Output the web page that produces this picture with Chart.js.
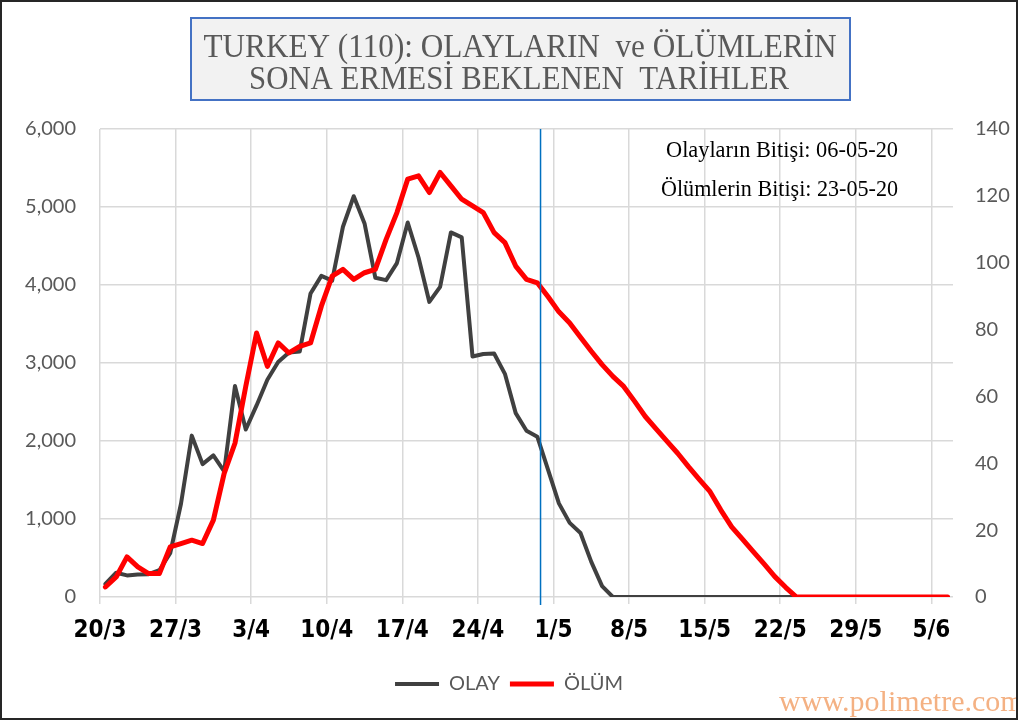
<!DOCTYPE html>
<html>
<head>
<meta charset="utf-8">
<title>Turkey</title>
<script src="https://cdn.jsdelivr.net/npm/chart.js@4.4.0/dist/chart.umd.min.js"></script>
<style>
  html, body { margin: 0; padding: 0; background: #fff; }
</style>
</head>
<body>
<canvas id="turkeyChart" width="1018" height="720"></canvas>
<script>
// x ekseni etiketleri (7 günde bir), ilk gün 20/3
const tickLabels = ['20/3', '27/3', '3/4', '10/4', '17/4', '24/4', '1/5', '8/5', '15/5', '22/5', '29/5', '5/6'];

// günlük vaka (sol eksen)
const olay = [
  168, 311, 277, 289, 293, 343, 561, 1196, 2069, 1704,
  1815, 1610, 2704, 2148, 2456, 2786, 3013, 3135, 3148, 3892,
  4117, 4056, 4747, 5138, 4789, 4093, 4062, 4281, 4801, 4353,
  3783, 3977, 4674, 4611, 3083, 3116, 3122, 2861, 2357, 2131,
  2055, 1630, 1200, 950, 820, 450, 140, 0, 0, 0,
  0, 0, 0, 0, 0, 0, 0, 0, 0, 0,
  0, 0, 0, 0, 0, 0, 0, 0, 0, 0,
  0, 0, 0, 0, 0, 0, 0, 0, 0
];

// günlük ölüm (sağ eksen)
const olum = [
  3, 6, 12, 9, 7, 7, 15, 16, 17, 16,
  23, 37, 46, 63, 79, 69, 76, 73, 75, 76,
  87, 96, 98, 95, 97, 98, 107, 115, 125, 126,
  121, 127, 123, 119, 117, 115, 109, 106, 99, 95,
  94, 89.8, 85.3, 82, 77.7, 73.5, 69.5, 66, 63, 58.6,
  54, 50.3, 46.6, 43, 39, 35.2, 31.5, 26, 21, 17.3,
  13.6, 9.9, 6.1, 2.9, 0, 0, 0, 0, 0, 0,
  0, 0, 0, 0, 0, 0, 0, 0, 0
];

const todayIndex = 40.3; // mavi dikey çizgi
const titleLines = ['TURKEY (110): OLAYLARIN  ve ÖLÜMLERİN', 'SONA ERMESİ BEKLENEN  TARİHLER'];
const endNotes = ['Olayların Bitişi: 06-05-20', 'Ölümlerin Bitişi: 23-05-20'];
const watermark = 'www.polimetre.com';

// yazıyı verilen genişliğe sığdır
function fitText(ctx, text, x, y, width, align) {
  const w = ctx.measureText(text).width;
  ctx.save();
  ctx.translate(x, y);
  ctx.scale(width / w, 1);
  ctx.textAlign = align;
  ctx.fillText(text, 0, 0);
  ctx.restore();
}

const extras = {
  id: 'extras',
  beforeDraw(chart) {
    const ctx = chart.ctx;
    ctx.save();
    ctx.fillStyle = '#fff';
    ctx.fillRect(0, 0, chart.width, chart.height);
    ctx.restore();
  },
  afterDatasetsDraw(chart) {
    const ctx = chart.ctx;
    const x = chart.scales.x.getPixelForValue(todayIndex);
    ctx.save();
    ctx.strokeStyle = '#0070c0';
    ctx.lineWidth = 1.5;
    ctx.beginPath();
    ctx.moveTo(x, chart.chartArea.top);
    ctx.lineTo(x, chart.chartArea.bottom + 8);
    ctx.stroke();
    ctx.restore();
  },
  afterDraw(chart) {
    const ctx = chart.ctx;
    ctx.save();
    // başlık kutusu
    ctx.fillStyle = '#f2f2f2';
    ctx.fillRect(191, 18, 659, 82);
    ctx.strokeStyle = '#4472c4';
    ctx.lineWidth = 2;
    ctx.strokeRect(191, 18, 659, 82);
    ctx.fillStyle = '#595959';
    ctx.font = '34px "Liberation Serif", "Times New Roman", serif';
    ctx.textBaseline = 'alphabetic';
    fitText(ctx, titleLines[0], 520, 57, 633, 'center');
    fitText(ctx, titleLines[1], 519, 89, 540, 'center');

    // bitiş tarihleri
    ctx.fillStyle = '#000';
    ctx.font = '24px "Liberation Serif", "Times New Roman", serif';
    fitText(ctx, endNotes[0], 898, 157, 232, 'right');
    fitText(ctx, endNotes[1], 898, 196, 237, 'right');

    // site adı
    ctx.fillStyle = '#f4b183';
    ctx.font = '30px "Liberation Serif", "Times New Roman", serif';
    ctx.textAlign = 'left';
    ctx.fillText(watermark, 779, 711);

    // dış çerçeve
    ctx.strokeStyle = '#262626';
    ctx.lineWidth = 2;
    ctx.strokeRect(1, 1, chart.width - 2, chart.height - 2);
    ctx.restore();
  }
};

const ctx = document.getElementById('turkeyChart').getContext('2d');
const chart = new Chart(ctx, {
  type: 'line',
  data: {
    datasets: [
      {
        label: 'OLAY',
        data: olay.map((v, i) => ({ x: i, y: v })),
        yAxisID: 'y',
        borderColor: '#404040',
        backgroundColor: '#404040',
        borderWidth: 4,
        borderJoinStyle: 'round',
        borderCapStyle: 'round',
        pointRadius: 0,
        tension: 0,
        order: 1
      },
      {
        label: 'ÖLÜM',
        data: olum.map((v, i) => ({ x: i, y: v })),
        yAxisID: 'y2',
        borderColor: '#ff0000',
        backgroundColor: '#ff0000',
        borderWidth: 5,
        borderJoinStyle: 'round',
        borderCapStyle: 'round',
        pointRadius: 0,
        tension: 0,
        order: 0
      }
    ]
  },
  options: {
    responsive: false,
    animation: false,
    layout: { padding: { top: 129, left: 0, right: 0, bottom: 16 } },
    plugins: {
      title: { display: false },
      tooltip: { enabled: false },
      legend: {
        position: 'bottom',
        labels: {
          usePointStyle: true,
          pointStyle: 'line',
          pointStyleWidth: 44,
          padding: 10,
          color: '#595959',
          font: { family: 'Lato, sans-serif', size: 20 },
          sort: (a, b) => a.datasetIndex - b.datasetIndex
        }
      }
    },
    scales: {
      x: {
        type: 'linear',
        min: -0.5,
        max: olay.length - 0.5,
        afterBuildTicks: (scale) => {
          scale.ticks = tickLabels.map((_, i) => ({ value: i * 7 - 0.5 }));
        },
        afterFit: (scale) => {
          scale.height = 720 - 597 - 16 - scale.chart.legend.height;
        },
        grid: { color: '#d9d9d9', lineWidth: 1.5, tickLength: 7, tickColor: '#d9d9d9' },
        border: { display: false },
        ticks: {
          autoSkip: false,
          maxRotation: 0,
          padding: 12,
          color: '#000',
          font: { family: '"Liberation Sans Narrow", "DejaVu Sans Condensed", sans-serif', size: 24, weight: 'bold' },
          callback: (v, i) => tickLabels[i]
        }
      },
      y: {
        position: 'left',
        min: 0,
        max: 6000,
        afterFit: (scale) => { scale.width = 100; },
        grid: { color: '#d9d9d9', lineWidth: 1.5, drawTicks: false },
        border: { display: false },
        ticks: {
          stepSize: 1000,
          padding: 24,
          color: '#595959',
          font: { family: 'Lato, sans-serif', size: 20 },
          callback: (v) => v.toLocaleString('en-US')
        }
      },
      y2: {
        position: 'right',
        min: 0,
        max: 140,
        afterFit: (scale) => { scale.width = 65; },
        grid: { drawOnChartArea: false, drawTicks: false },
        border: { display: false },
        ticks: {
          stepSize: 20,
          padding: 22,
          color: '#595959',
          font: { family: 'Lato, sans-serif', size: 20 }
        }
      }
    }
  },
  plugins: [extras]
});
</script>
</body>
</html>
